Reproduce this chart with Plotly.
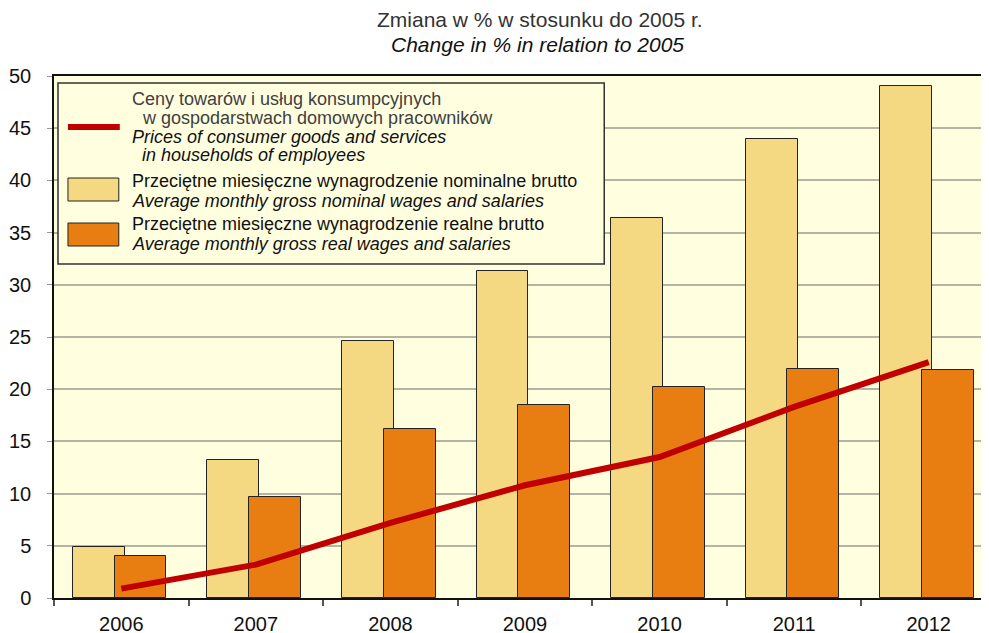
import plotly.graph_objects as go

years = ["2006", "2007", "2008", "2009", "2010", "2011", "2012"]
nominal = [4.9, 13.2, 24.6, 31.3, 36.4, 44.0, 49.0]
real = [4.0, 9.7, 16.2, 18.5, 20.2, 21.9, 21.8]
prices = [0.9, 3.2, 7.2, 10.8, 13.5, 18.3, 22.6]

W, H = 989, 633
# page body adds an 8px offset; compensate so the plot lands where intended on screen
OX, OY = 8, 8
L, R, T, B = 51 - OX, 1, 76 - OY, 43
PW, PH = W - L - R, H - T - B

def px(x):
    return (x - OX - L) / PW

def py(y):
    return (H - B - (y - OY)) / PH

FONT = "Liberation Sans, Arial, sans-serif"
C_NOM = "#F5D982"
C_REAL = "#E87D12"
C_LINE = "#C00000"

fig = go.Figure()
fig.add_trace(go.Bar(x=years, y=nominal, width=0.385, offset=-0.36,
                     marker=dict(color=C_NOM, line=dict(color="#222222", width=1)),
                     showlegend=False))
fig.add_trace(go.Bar(x=years, y=real, width=0.385, offset=-0.05,
                     marker=dict(color=C_REAL, line=dict(color="#222222", width=1)),
                     showlegend=False))
fig.add_trace(go.Scatter(x=years, y=prices, mode="lines",
                         line=dict(color=C_LINE, width=6), showlegend=False))

shapes = [
    dict(type="rect", xref="paper", yref="paper", x0=px(55), x1=px(603), y0=py(83), y1=py(264),
         fillcolor="#FFFFE0", line=dict(color="#333333", width=1.5), layer="above"),
    dict(type="line", xref="paper", yref="paper", x0=px(65), x1=px(117), y0=py(127), y1=py(127),
         line=dict(color=C_LINE, width=6), layer="above"),
    dict(type="rect", xref="paper", yref="paper", x0=px(65), x1=px(116), y0=py(178), y1=py(201),
         fillcolor=C_NOM, line=dict(color="#222222", width=1), layer="above"),
    dict(type="rect", xref="paper", yref="paper", x0=px(65), x1=px(116), y0=py(223), y1=py(246),
         fillcolor=C_REAL, line=dict(color="#222222", width=1), layer="above"),
]

legend_lines = [
    (127, 98.5, "Ceny towarów i usług konsumpcyjnych", False, "#404040"),
    (137, 117.5, "w gospodarstwach domowych pracowników", False, "#404040"),
    (127, 136.5, "Prices of consumer goods and services", True, "#111111"),
    (137, 155, "in households of employees", True, "#111111"),
    (127, 181, "Przeciętne miesięczne wynagrodzenie nominalne brutto", False, "#111111"),
    (127, 200.5, "Average monthly gross nominal wages and salaries", True, "#111111"),
    (127, 224, "Przeciętne miesięczne wynagrodzenie realne brutto", False, "#111111"),
    (127, 243.5, "Average monthly gross real wages and salaries", True, "#111111"),
]

annotations = []
for x, y, txt, it, col in legend_lines:
    annotations.append(dict(xref="paper", yref="paper", x=px(x), y=py(y), xanchor="left",
                            yanchor="middle", showarrow=False,
                            text=("<i>%s</i>" % txt) if it else txt,
                            font=dict(family=FONT, size=18, color=col)))

annotations.append(dict(xref="paper", yref="paper", x=px(539), y=py(20), xanchor="center",
                        yanchor="middle", showarrow=False, text="Zmiana w % w stosunku do 2005 r.",
                        font=dict(family=FONT, size=21, color="#333333")))
annotations.append(dict(xref="paper", yref="paper", x=px(536), y=py(45), xanchor="center",
                        yanchor="middle", showarrow=False, text="<i>Change in % in relation to 2005</i>",
                        font=dict(family=FONT, size=21, color="#111111")))

fig.update_layout(
    width=W, height=H,
    margin=dict(l=L, r=R, t=T, b=B, pad=0),
    paper_bgcolor="white", plot_bgcolor="#FFFFE0",
    barmode="overlay", bargap=0,
    shapes=shapes, annotations=annotations,
    font=dict(family=FONT, size=20, color="#111111"),
    xaxis=dict(type="category", range=[-0.5, 6.5], tickson="boundaries",
               ticks="outside", ticklen=6, tickcolor="#555555", tickwidth=2,
               showline=True, linecolor="#111111", linewidth=1.5, mirror=True,
               showgrid=False, ticklabelstandoff=7,
               tickfont=dict(family=FONT, size=20, color="#111111")),
    yaxis=dict(range=[0, 50], dtick=5, ticks="outside", ticklen=5, tickcolor="#999999",
               showline=True, linecolor="#111111", linewidth=1.5,
               showgrid=True, gridcolor="#B4B4A4", gridwidth=1.5, zeroline=False,
               ticklabelstandoff=12,
               tickfont=dict(family=FONT, size=20, color="#111111")),
)

fig.write_html("out.html")
